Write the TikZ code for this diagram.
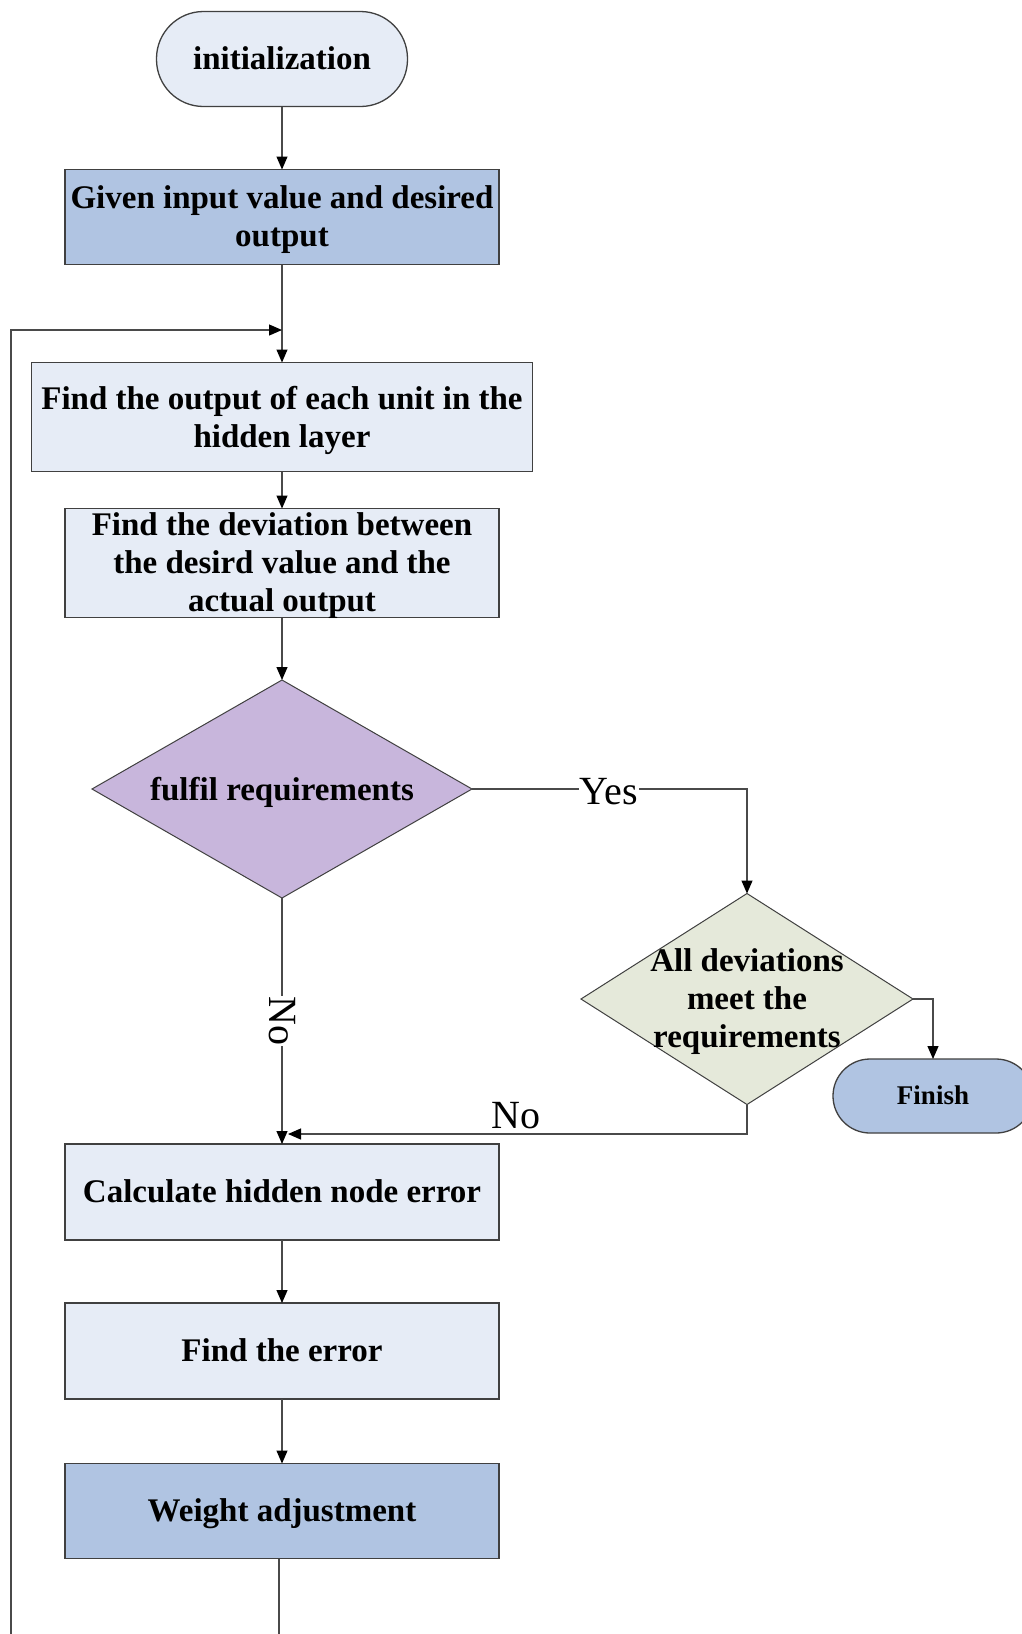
\documentclass[tikz,border=0pt]{standalone}
\usepackage{fontspec}
\setmainfont{Liberation Serif}
\usetikzlibrary{arrows.meta,shapes.geometric}
\definecolor{lightfill}{HTML}{E6ECF6}
\definecolor{bluefill}{HTML}{B0C4E2}
\definecolor{purplefill}{HTML}{C8B6DC}
\definecolor{greenfill}{HTML}{E5E9DA}
\definecolor{edgecol}{HTML}{404040}
\definecolor{conncol}{HTML}{4A4A4A}
\begin{document}
\begin{tikzpicture}[x=1pt,y=-1pt,
  boxtxt/.style={font=\bfseries\fontsize{33}{38}\selectfont,align=center,text depth=1pt},
  box/.style={boxtxt,draw=edgecol,line width=1.3pt,rectangle,inner sep=0pt,outer sep=0pt},
  term/.style={box},
  dia/.style={draw=edgecol,line width=1pt,diamond,inner sep=0pt,outer sep=0pt},
  lbl/.style={boxtxt,inner sep=0pt},
  conn/.style={draw=conncol,line width=1.2pt},
  arr/.style={conn,-{Triangle[length=13pt,width=11pt,color=black]}},
  edgelbl/.style={font=\fontsize{40}{44}\selectfont,inner sep=1pt}
]
\useasboundingbox (0,0) rectangle (1021,1634);
\fill[white] (0,0) rectangle (1021,1634);

% nodes
\node[term,fill=lightfill,rounded corners=47pt,minimum width=251pt,minimum height=95pt] (init) at (282,59) {initialization};
\node[box,fill=bluefill,minimum width=434pt,minimum height=95pt] (given) at (282,217) {Given input value and desired\\output};
\node[box,fill=lightfill,minimum width=501pt,minimum height=109pt] (hidden) at (282,417) {Find the output of each unit in the\\hidden layer};
\node[box,fill=lightfill,minimum width=434pt,minimum height=109pt] (dev) at (282,563) {Find the deviation between\\the desird value and the\\actual output};
\node[dia,fill=purplefill,minimum width=380pt,minimum height=218pt] (d1) at (282,789) {};
\node[lbl] (d1t) at (d1) {fulfil requirements};
\node[dia,fill=greenfill,minimum width=332pt,minimum height=211pt] (d2) at (747,999) {};
\node[lbl] (d2t) at (747,999) {All deviations\\meet the\\requirements};
\node[term,fill=bluefill,rounded corners=37pt,minimum width=200pt,minimum height=74pt,font=\bfseries\fontsize{27}{30}\selectfont] (fin) at (933,1096) {Finish};
\node[box,fill=lightfill,minimum width=434pt,minimum height=96pt] (calc) at (282,1192) {Calculate hidden node error};
\node[box,fill=lightfill,minimum width=434pt,minimum height=96pt] (err) at (282,1351) {Find the error};
\node[box,fill=bluefill,minimum width=434pt,minimum height=95pt] (weight) at (282,1511) {Weight adjustment};

% connectors
\coordinate (loopin) at (282,330);
\coordinate (loopbot) at (11,1640);
\coordinate (wbot) at (279,1640);
\coordinate (nojoin) at (288,1134);
\draw[arr] (init) -- (given);
\draw[arr] (given) -- (hidden);
\draw[arr] (loopbot) |- (loopin);
\draw[conn] (weight.south -| wbot) -- (wbot);
\draw[arr] (hidden) -- (dev);
\draw[arr] (dev) -- (d1);
\draw[arr] (d1.east) -| (d2.north);
\draw[arr] (d2.east) -| (fin.north);
\draw[arr] (d2.south) |- (nojoin);
\draw[arr] (d1.south) -- (calc.north);
\draw[arr] (calc) -- (err);
\draw[arr] (err) -- (weight);

% labels
\node[edgelbl,fill=white] (yes) at (609,792) {Yes};
\node[edgelbl,fill=white,rotate=-90] (no1) at (282,1021) {No};
\node[edgelbl] (no2) at (516,1116) {No};
\end{tikzpicture}
\end{document}
